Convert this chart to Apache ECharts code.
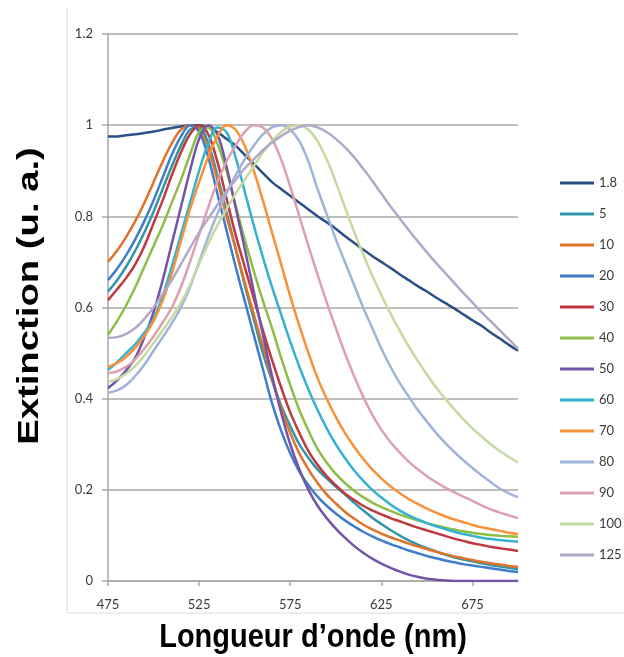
<!DOCTYPE html>
<html>
<head>
<meta charset="utf-8">
<script src="https://cdn.jsdelivr.net/npm/echarts@6/dist/echarts.min.js"></script>
<style>
html,body{margin:0;padding:0;background:#fff;}
#chart{width:624px;height:657px;}
</style>
</head>
<body>
<div id="chart"></div>
<script>
// ---- data ----
const wavelengths = [475,480,485,490,495,500,505,510,515,520,525,530,535,540,545,550,555,560,565,570,575,580,585,590,595,600,605,610,615,620,625,630,635,640,645,650,655,660,665,670,675,680,685,690,695,700];
const xTickLabels = ['475','525','575','625','675'];
const yTickLabels = ['0','0.2','0.4','0.6','0.8','1','1.2'];
const seriesNames = ['1.8','5','10','20','30','40','50','60','70','80','90','100','125'];

const s1_8 = [.975,.975,.978,.98,.983,.986,.99,.994,.997,1.0, 1.0,.995,.985,.97,.955,.935,.915,.895,.875,.86, .845,.83,.815,.8,.787,.773,.757,.742,.727,.713, .700,.687,.673,.66,.647,.635,.622,.61,.598,.585, .572,.56,.545,.532,.518,.505];
const s5   = [.635,.66,.69,.725,.765,.81,.86,.91,.955,.99, .995,.96,.89,.81,.73,.65,.575,.50,.44,.385, .34,.30,.27,.245,.225,.207,.19,.172,.155,.139, .125,.112,.1,.089,.08,.072,.065,.058,.052,.047, .043,.039,.035,.032,.029,.026];
const s10  = [.70,.725,.755,.79,.83,.875,.92,.96,.99,1.0, .99,.95,.88,.80,.73,.655,.585,.515,.445,.38, .325,.28,.245,.215,.19,.17,.152,.137,.124,.113, .104,.096,.089,.082,.076,.070,.064,.059,.054,.05, .046,.042,.039,.036,.033,.031];
const s20  = [.66,.685,.715,.75,.79,.835,.885,.935,.975,1.0, .985,.93,.85,.77,.69,.615,.54,.465,.39,.33, .28,.24,.21,.185,.165,.148,.133,.12,.108,.098, .089,.081,.074,.067,.061,.055,.05,.045,.041,.037, .034,.031,.028,.025,.022,.02];
const s30  = [.616,.64,.665,.695,.735,.785,.835,.89,.94,.98, 1.0,.98,.92,.84,.76,.69,.62,.55,.485,.425, .37,.325,.285,.255,.23,.21,.192,.178,.165,.155, .146,.138,.131,.124,.117,.111,.105,.099,.093,.088, .083,.079,.075,.072,.069,.066];
const s40  = [.54,.57,.605,.645,.69,.735,.78,.83,.88,.935, .985,.995,.96,.9,.825,.75,.68,.615,.555,.49, .43,.375,.33,.29,.26,.235,.215,.198,.184,.172, .162,.154,.146,.139,.133,.127,.122,.117,.113,.109, .106,.103,.101,.099,.098,.097];
const s50  = [.423,.44,.462,.49,.535,.59,.66,.74,.82,.9, .97,1.0,.98,.91,.82,.73,.635,.54,.45,.37, .30,.245,.2,.165,.138,.115,.095,.077,.062,.049, .038,.029,.021,.014,.009,.005,.003,.001,0,0, 0,0,0,0,0,0];
const s60  = [.463,.48,.5,.52,.545,.575,.625,.69,.76,.83, .9,.96,.995,.985,.93,.855,.78,.71,.645,.585, .525,.47,.42,.375,.335,.3,.27,.243,.22,.2, .183,.168,.155,.144,.135,.127,.12,.114,.108,.103, .099,.095,.092,.09,.088,.086];
const s70  = [.47,.478,.492,.512,.538,.57,.615,.675,.745,.815, .875,.93,.975,1.0,.99,.955,.9,.835,.765,.695, .625,.56,.5,.445,.4,.36,.325,.295,.268,.245, .225,.208,.193,.18,.169,.159,.15,.142,.135,.129, .123,.118,.114,.11,.106,.103];
const s80  = [.413,.418,.43,.45,.475,.505,.535,.565,.6,.645, .7,.755,.805,.85,.89,.925,.955,.98,.995,1.0, .99,.965,.92,.86,.805,.75,.7,.65,.6,.555, .51,.47,.435,.405,.375,.35,.325,.303,.283,.265, .248,.232,.217,.203,.192,.184];
const s90  = [.456,.46,.47,.487,.51,.537,.567,.6,.645,.7, .76,.82,.875,.92,.955,.985,1.0,.995,.97,.925, .865,.8,.735,.672,.612,.555,.5,.45,.405,.365, .332,.305,.282,.262,.245,.23,.217,.205,.195,.185, .176,.166,.157,.15,.144,.138];
const s100 = [.437,.443,.455,.472,.495,.522,.55,.578,.61,.65, .695,.74,.78,.815,.85,.88,.91,.94,.965,.985, .997,1.0,.99,.965,.925,.875,.82,.767,.717,.67, .627,.587,.55,.515,.483,.453,.425,.4,.377,.355, .335,.317,.3,.285,.272,.26];
const s125 = [.533,.535,.542,.555,.575,.6,.63,.66,.695,.73, .765,.795,.825,.855,.88,.905,.925,.945,.962,.976, .988,.996,1.0,.995,.985,.97,.952,.93,.905,.878, .85,.822,.796,.77,.745,.721,.698,.676,.654,.632, .611,.59,.57,.55,.53,.51];

const seriesValues = [s1_8,s5,s10,s20,s30,s40,s50,s60,s70,s80,s90,s100,s125];

// ---- styling ----
const palette = ['#2B5086','#2E96A8','#E0732A','#3F7DCB','#C0393F','#8DBE45','#7454A8','#35B2D2','#F7923A','#A0B3D8','#DDA0AE','#C4DAA2','#B2A8C9'];
const gridColor = '#a9a9a9';
const labelColor = '#3a3a3a';
const labelFont = 'Lato';

const chart = echarts.init(document.getElementById('chart'), null, {renderer:'canvas'});

const option = {
  animation: false,
  backgroundColor: '#ffffff',
  grid: {left:108, top:34, width:410, height:547, containLabel:false},
  xAxis: {
    type: 'category',
    data: wavelengths.map(String),
    boundaryGap: false,
    axisLine: {show:true, lineStyle:{color:gridColor, width:1.5}},
    axisTick: {show:true, interval:9, length:5, lineStyle:{color:gridColor, width:1.5}},
    axisLabel: {
      interval: function(idx, val){ return xTickLabels.indexOf(val) >= 0; },
      margin: 17, color: labelColor, fontSize: 13, fontFamily: labelFont
    },
    splitLine: {show:false}
  },
  yAxis: {
    type: 'value',
    min: 0, max: 1.2, interval: 0.2,
    axisLine: {show:true, lineStyle:{color:gridColor, width:1.5}},
    axisTick: {show:true, length:6, lineStyle:{color:gridColor, width:1.5}},
    axisLabel: {
      margin: 15, color: labelColor, fontSize: 13, fontFamily: labelFont,
      formatter: function(v){ return yTickLabels[Math.round(v/0.2)]; }
    },
    splitLine: {show:true, lineStyle:{color:gridColor, width:1.5}}
  },
  legend: {
    orient: 'vertical',
    left: 560, top: 175, padding: 0,
    icon: 'rect',
    itemWidth: 34, itemHeight: 3, itemGap: 15,
    textStyle: {color: labelColor, fontSize: 13, fontFamily: labelFont, lineHeight: 16},
    data: seriesNames
  },
  graphic: [
    {type:'polyline', shape:{points:[[67,8],[67,613],[624,613]]}, style:{stroke:'#dcdcdc', lineWidth:1, fill:null}, silent:true},
    {type:'text', x:313, y:638, scaleY:1.12,
     style:{text:'Longueur d\u2019onde (nm)', font:'bold 29px "Liberation Sans", Arial, sans-serif', fill:'#000', textAlign:'center', textVerticalAlign:'middle'}},
    {type:'text', x:30, y:296, rotation:Math.PI/2, scaleX:1.32,
     style:{text:'Extinction (u. a.)', font:'bold 29px "Liberation Sans", Arial, sans-serif', fill:'#000', textAlign:'center', textVerticalAlign:'middle'}}
  ],
  series: seriesNames.map(function(name, i){
    return {
      name: name,
      type: 'line',
      data: seriesValues[i],
      smooth: 0.35,
      symbol: 'none',
      showSymbol: false,
      lineStyle: {width: 2.5, color: palette[i]},
      itemStyle: {color: palette[i]},
      emphasis: {disabled: true}
    };
  })
};
chart.setOption(option);
</script>
</body>
</html>
